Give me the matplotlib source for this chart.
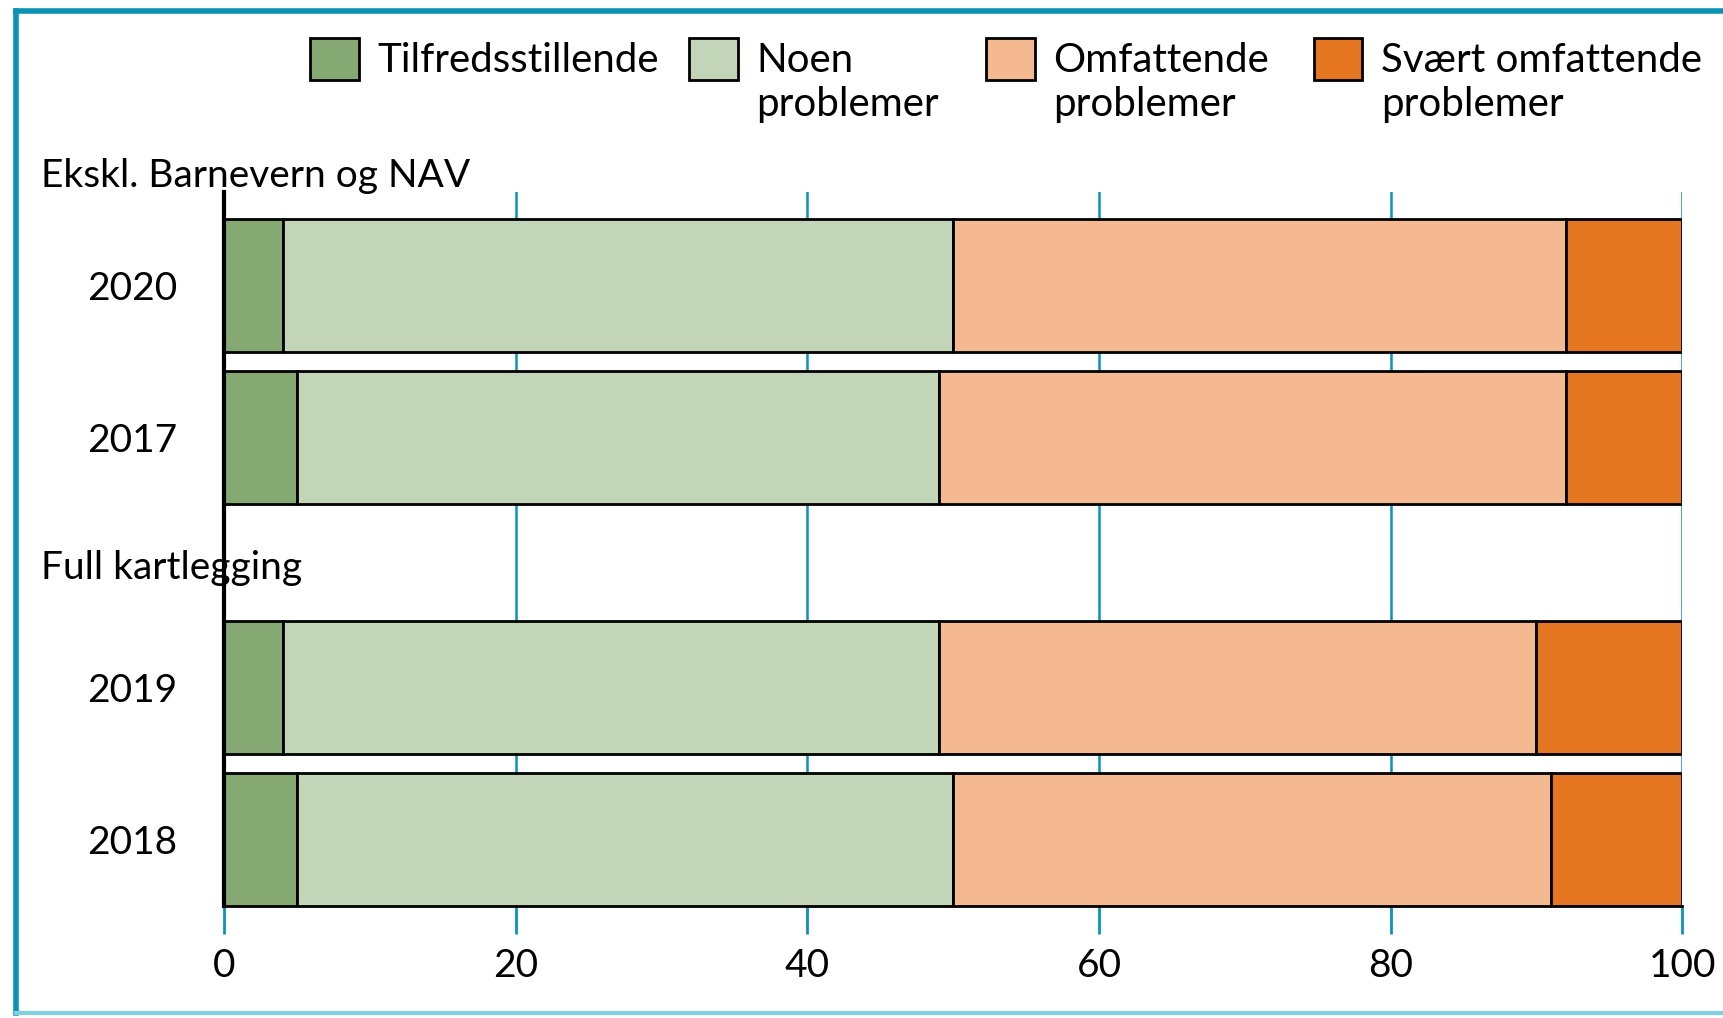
import matplotlib.pyplot as plt
from matplotlib.lines import Line2D
from matplotlib.patches import Rectangle

plt.rcParams['font.family'] = ['Lato', 'DejaVu Sans']

years = ["2020", "2017", "2019", "2018"]
groups = ["Ekskl. Barnevern og NAV", "Full kartlegging"]
categories = ["Tilfredsstillende", "Noen\nproblemer", "Omfattende\nproblemer", "Svært omfattende\nproblemer"]
tilfreds = [4, 5, 4, 5]
noen = [46, 44, 45, 45]
omfattende = [42, 43, 41, 41]
svaert = [8, 8, 10, 9]
colors = ["#86a872", "#c2d5b8", "#f4b990", "#e67722"]
teal = "#0a93b4"

series = [tilfreds, noen, omfattende, svaert]

fig = plt.figure(figsize=(17.24, 10.18), dpi=100)
ax = fig.add_axes([0.1301, 0.110, 0.8457, 0.701])

group_gap = 1.652
pos = [0, 1, 1 + group_gap, 2 + group_gap]

left = [0] * len(years)
for vals, col, lab in zip(series, colors, categories):
    ax.barh(pos, vals, left=left, height=0.88, color=col, edgecolor="black",
            linewidth=2, label=lab, zorder=3)
    left = [l + v for l, v in zip(left, vals)]

ax.set_xlim(0, 100)
ax.set_ylim(pos[-1] + 0.44, -0.616)
ax.set_xticks([0, 20, 40, 60, 80, 100])
ax.set_yticks(pos)
ax.set_yticklabels(years, fontsize=28)
ax.tick_params(axis="y", length=0, pad=34)
ax.tick_params(axis="x", which="major", direction="out", length=20, width=2,
               color=teal, labelsize=28, pad=10)
ax.xaxis.grid(True, color=teal, linewidth=1.8)
ax.xaxis.get_major_ticks()[0].tick1line.set_color("black")

for s in ["top", "right"]:
    ax.spines[s].set_visible(False)
ax.spines["left"].set_linewidth(3)
ax.spines["left"].set_zorder(4)
ax.spines["bottom"].set_linewidth(2)

fig.text(0.0236, 0.827, groups[0], fontsize=28, va="center")
fig.text(0.0236, 0.4416, groups[1], fontsize=28, va="center")

# legend, handles aligned with the first text line
leg_x = [0.1798, 0.3999, 0.5720, 0.7621]
for x, col, lab in zip(leg_x, colors, categories):
    fig.add_artist(Rectangle((x, 0.9211), 0.0282, 0.0411, facecolor=col,
                             edgecolor="black", linewidth=2,
                             transform=fig.transFigure))
    fig.text(x + 0.0389, 0.9585, lab, fontsize=29, va="top",
             linespacing=1.22, transform=fig.transFigure)

# frame
fig.add_artist(Line2D([0.009, 1.0], [0.989, 0.989], color=teal, linewidth=4,
                      transform=fig.transFigure))
fig.add_artist(Line2D([0.009, 0.009], [0.005, 0.989], color=teal, linewidth=4,
                      transform=fig.transFigure))
fig.add_artist(Line2D([0.009, 1.0], [0.005, 0.005], color="#7fd0e0", linewidth=3,
                      transform=fig.transFigure))

fig.savefig("out.png", dpi=100)
